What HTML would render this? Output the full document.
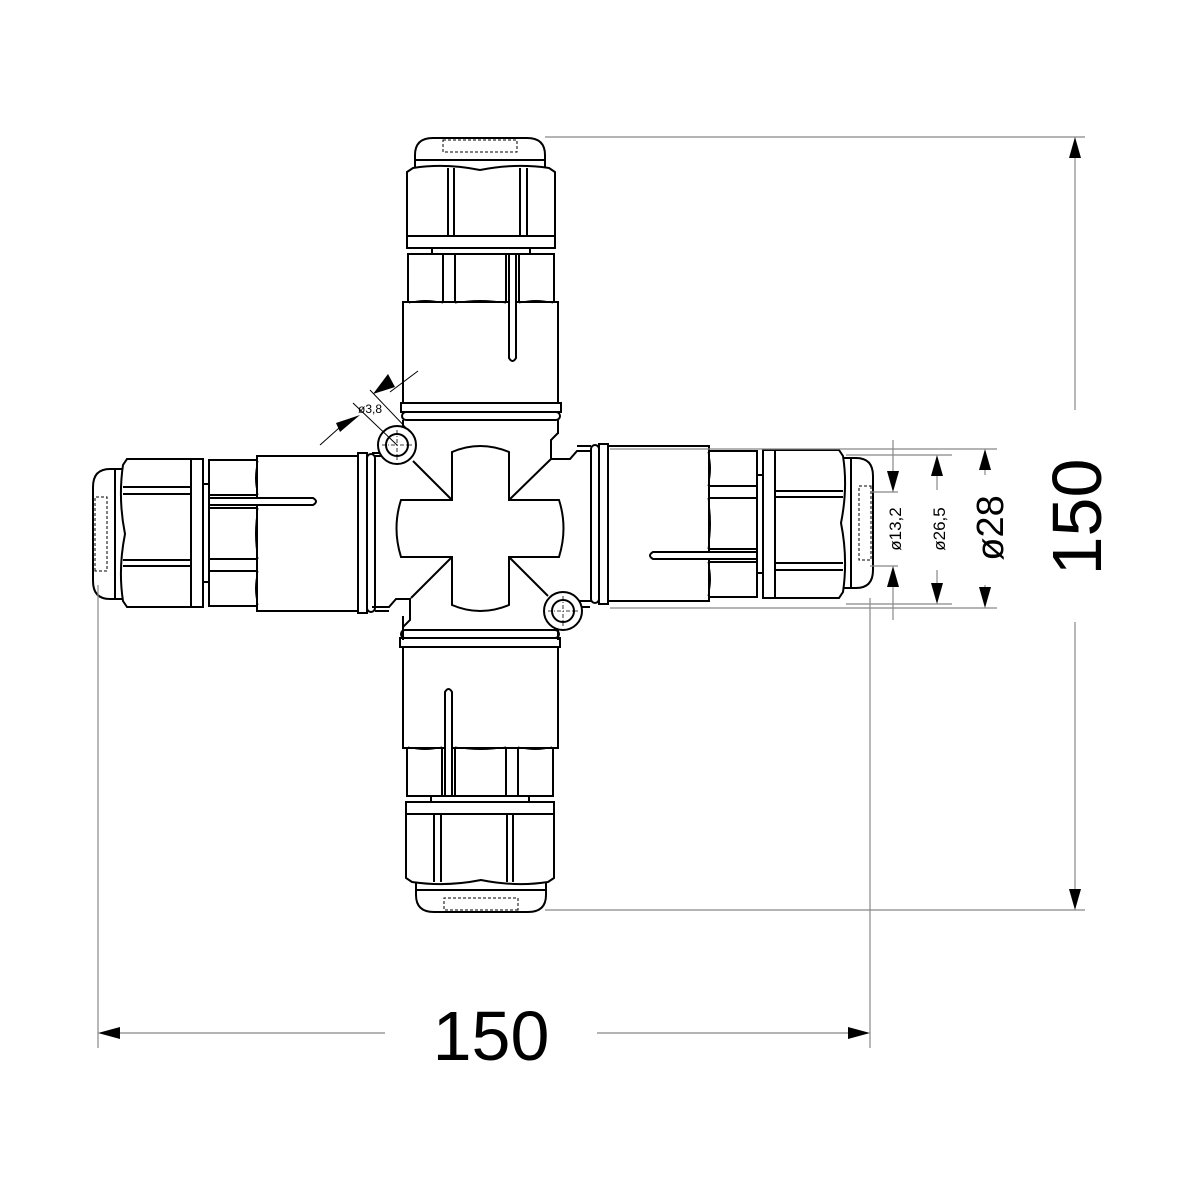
<!DOCTYPE html>
<html><head><meta charset="utf-8"><style>html,body{margin:0;padding:0;background:#fff}svg{display:block}</style></head>
<body>
<svg width="1200" height="1200" viewBox="0 0 1200 1200" xmlns="http://www.w3.org/2000/svg">
<defs>
<g id="arm" fill="#fff" stroke="#000" stroke-width="2">
  <path d="M415,170 L415,155 Q415,138 433,138 L527,138 Q545,138 545,155 L545,170 Z"/>
  <line x1="415" y1="160" x2="545" y2="160"/>
  <rect x="443" y="140" width="74" height="12" fill="none" stroke-width="1" stroke-dasharray="3,2"/>
  <path d="M407,172 L413,168 Q445,163 480,170 Q515,163 549,168 L555,172 L555,236 L407,236 Z"/>
  <line x1="448" y1="168" x2="448" y2="236"/><line x1="454" y1="168" x2="454" y2="236"/>
  <line x1="520" y1="168" x2="520" y2="236"/><line x1="527" y1="168" x2="527" y2="236"/>
  <rect x="407" y="236" width="148" height="12"/>
  <rect x="432" y="248" width="98" height="6"/>
  <rect x="408" y="254" width="35" height="50"/>
  <rect x="455" y="254" width="51" height="50"/>
  <rect x="519" y="254" width="35" height="50"/>
  <rect x="403" y="302" width="155" height="101"/>
  <path d="M409,303 Q425,298 443,303 M455,303 Q480,298 506,303 M519,303 Q536,298 553,303" fill="none" stroke-width="1"/>
  <path d="M509,254 L509,358 Q512.5,364 516,358 L516,254 Z"/>
  <rect x="401" y="403" width="160" height="9"/>
  <rect x="402" y="412" width="158" height="8" rx="4"/>
  <line x1="403" y1="420" x2="403" y2="434"/>
  <line x1="558" y1="420" x2="558" y2="434"/>
</g>
</defs>
<g transform="translate(0,2) rotate(90 485 526)"><use href="#arm"/></g>
<g transform="translate(-9,-2) rotate(180 485 526)"><use href="#arm"/></g>
<g transform="translate(-4,3) rotate(270 485 526)"><use href="#arm"/></g>
<use href="#arm"/>
<!-- center body -->
<g fill="none" stroke="#000" stroke-width="2">
  <path d="M558,433 L551,440 L551,459 L570,459 L577,451 L590,451"/>
  <path d="M590,607 L582,607"/>
  <path d="M558,630 L558,640"/>
  <path d="M372,607 L389,607 L396,599 L410,599 L410,620 L403,627 L403,640"/>
  <path d="M372,453 L380,453"/>
  <path d="M414,445 L410,440 L403,434"/>
  <path d="M452,500 L413,461 M509,500 L551,459 M452,557 L411,598 M509,557 L548,596"/>
  <path d="M452,500 L452,452 Q480,440 509,452 L509,500 L559,500 Q568,528 559,557 L509,557 L509,605 Q480,617 452,605 L452,557 L401,557 Q392,528 401,500 Z" fill="#fff"/>
  <circle cx="397" cy="445" r="19" fill="#fff"/><circle cx="397" cy="445" r="11"/>
  <circle cx="563" cy="611" r="19" fill="#fff"/><circle cx="563" cy="611" r="11"/>
</g>
<g stroke="#000" stroke-width="0.8" stroke-dasharray="4,2,1,2">
  <line x1="382" y1="445" x2="412" y2="445"/><line x1="397" y1="430" x2="397" y2="460"/>
  <line x1="548" y1="611" x2="578" y2="611"/><line x1="563" y1="596" x2="563" y2="626"/>
</g>
<!-- 3,8 dimension -->
<g stroke="#000" stroke-width="1">
  <line x1="320" y1="445" x2="348" y2="420"/>
  <line x1="418" y1="371" x2="390" y2="392"/>
  <line x1="353" y1="403" x2="397" y2="445"/>
  <line x1="370" y1="390" x2="410" y2="432"/>
</g>
<polygon points="360,415 340,432 336,423" fill="#000"/>
<polygon points="373,394 395,387 388,374" fill="#000"/>
<text x="358" y="413" font-family="Liberation Sans, sans-serif" font-size="12" fill="#000">ø3,8</text>
<!-- overall dims -->
<g stroke="#888" stroke-width="1.2">
  <line x1="545" y1="137" x2="1085" y2="137"/>
  <line x1="545" y1="910" x2="1085" y2="910"/>
  <line x1="1075" y1="155" x2="1075" y2="410"/>
  <line x1="1075" y1="622" x2="1075" y2="892"/>
  <line x1="98" y1="585" x2="98" y2="1048"/>
  <line x1="870" y1="598" x2="870" y2="1048"/>
  <line x1="115" y1="1033" x2="385" y2="1033"/>
  <line x1="597" y1="1033" x2="853" y2="1033"/>
  <line x1="610" y1="449" x2="997" y2="449"/>
  <line x1="610" y1="608" x2="997" y2="608"/>
  <line x1="846" y1="455" x2="952" y2="455"/>
  <line x1="846" y1="604" x2="952" y2="604"/>
  <line x1="870" y1="492" x2="898" y2="492"/>
  <line x1="870" y1="566" x2="898" y2="566"/>
  <line x1="893" y1="440" x2="893" y2="478"/>
  <line x1="893" y1="580" x2="893" y2="620"/>
  <line x1="937" y1="470" x2="937" y2="490"/>
  <line x1="937" y1="570" x2="937" y2="590"/>
  <line x1="985" y1="462" x2="985" y2="475"/>
  <line x1="985" y1="585" x2="985" y2="596"/>
</g>
<g fill="#000">
  <polygon points="1075,137 1069,158 1081,158"/>
  <polygon points="1075,910 1069,889 1081,889"/>
  <polygon points="98,1033 120,1027 120,1039"/>
  <polygon points="870,1033 848,1027 848,1039"/>
  <polygon points="893,492 887,471 899,471"/>
  <polygon points="893,566 887,587 899,587"/>
  <polygon points="937,455 931,476 943,476"/>
  <polygon points="937,604 931,583 943,583"/>
  <polygon points="985,449 979,470 991,470"/>
  <polygon points="985,608 979,587 991,587"/>
</g>
<text x="491" y="1060" text-anchor="middle" font-family="Liberation Sans, sans-serif" font-size="70" fill="#000">150</text>
<text transform="translate(1101,517) rotate(-90)" text-anchor="middle" font-family="Liberation Sans, sans-serif" font-size="70" fill="#000">150</text>
<text transform="translate(1003,528) rotate(-90)" text-anchor="middle" font-family="Liberation Sans, sans-serif" font-size="38" fill="#000">ø28</text>
<text transform="translate(945,529) rotate(-90)" text-anchor="middle" font-family="Liberation Sans, sans-serif" font-size="17" fill="#000">ø26,5</text>
<text transform="translate(901,529) rotate(-90)" text-anchor="middle" font-family="Liberation Sans, sans-serif" font-size="17" fill="#000">ø13,2</text>
</svg>
</body></html>
